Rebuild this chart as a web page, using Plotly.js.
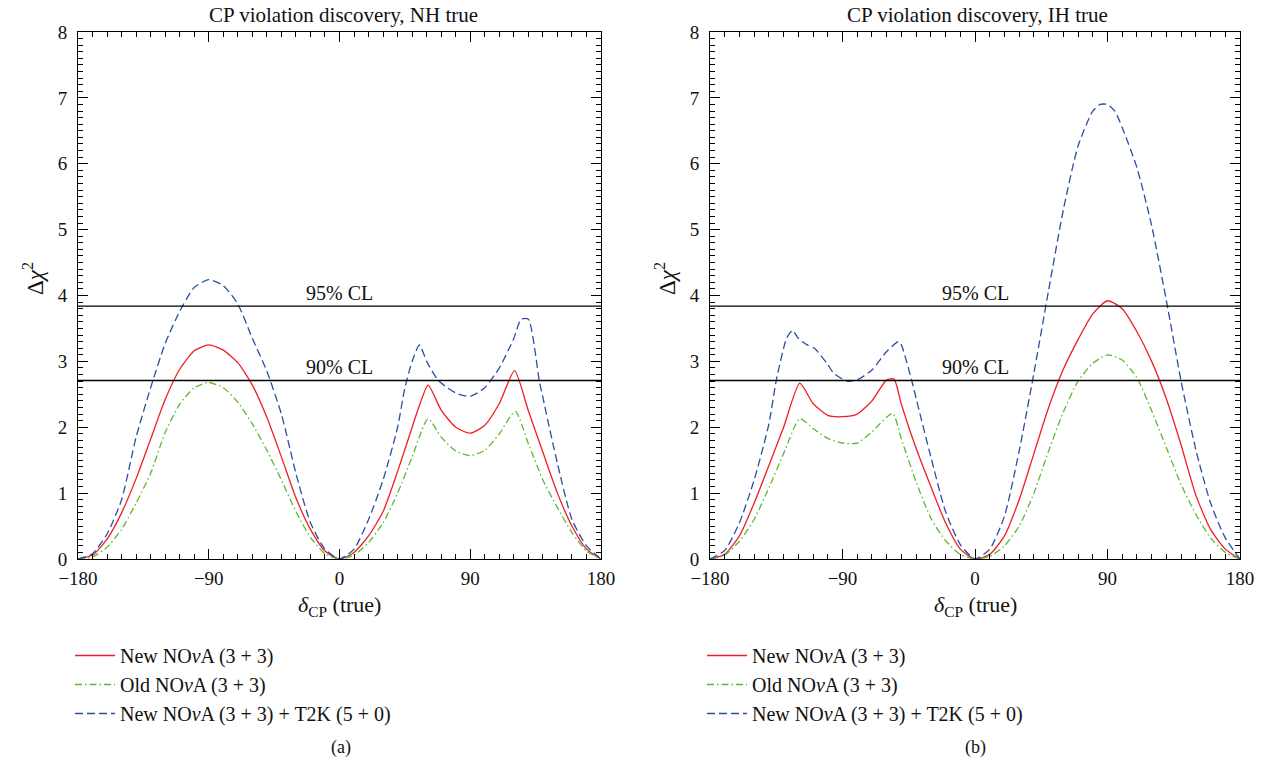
<!DOCTYPE html>
<html>
<head>
<meta charset="utf-8">
<script src="https://cdn.plot.ly/plotly-3.0.1.min.js"></script>
<style>html,body{margin:0;padding:0;background:#fff;}#chart{width:1264px;height:767px;}</style>
</head>
<body>
<div id="chart"></div>
<script>
// ---- Data ----
const seriesNames = ["New NO<i>ν</i>A (3 + 3)", "Old NO<i>ν</i>A (3 + 3)", "New NO<i>ν</i>A (3 + 3) + T2K (5 + 0)"];
const panelTitles = ["CP violation discovery, NH true", "CP violation discovery, IH true"];
const panelTags = ["(a)", "(b)"];
const clValues = [3.84, 2.71];
const clLabels = ["95% CL", "90% CL"];
const xTickVals = [-180, -90, 0, 90, 180];
const yTickVals = [0, 1, 2, 3, 4, 5, 6, 7, 8];

// NH true (panel a)
const nhRedX = [-180,-170,-160,-150,-140,-130,-120,-110,-100,-90,-80,-70,-60,-50,-40,-30,-20,-10,0,10,20,30,40,50,55,61,70,80,90,100,110,120.5,130,140,150,160,170,180];
const nhRedY = [0,0.06,0.3,0.7,1.22,1.82,2.42,2.88,3.16,3.25,3.17,2.98,2.64,2.15,1.55,0.93,0.45,0.12,0,0.1,0.35,0.72,1.33,2.0,2.33,2.64,2.26,2.0,1.91,2.03,2.36,2.86,2.25,1.62,1.0,0.5,0.15,0];
const nhGreenX = [-180,-170,-160,-150,-140,-130,-120,-110,-100,-90,-80,-70,-60,-50,-40,-30,-20,-10,0,10,20,30,40,50,61,70,80,90,100,110,121,130,140,150,160,170,180];
const nhGreenY = [0,0.03,0.18,0.45,0.85,1.3,1.92,2.35,2.6,2.68,2.6,2.38,2.05,1.65,1.2,0.72,0.33,0.08,0,0.06,0.25,0.55,1.0,1.55,2.13,1.85,1.64,1.57,1.65,1.9,2.24,1.75,1.2,0.78,0.4,0.12,0];
const nhBlueX = [-180,-170,-160,-150,-140,-130,-120,-110,-100,-90,-80,-70,-60,-50,-40,-30,-20,-10,0,10,20,30,40,45,50,55,60,68,80,90,100,110,120,125,130,137.5,140,150,160,170,180];
const nhBlueY = [0,0.08,0.38,0.9,1.85,2.6,3.27,3.76,4.12,4.24,4.15,3.87,3.35,2.85,2.2,1.3,0.55,0.15,0,0.15,0.6,1.2,2.0,2.6,3.0,3.25,3.0,2.71,2.52,2.47,2.6,2.9,3.35,3.64,3.64,2.71,2.45,1.45,0.6,0.2,0];

// IH true (panel b)
const ihRedX = [-180,-170,-160,-150,-140,-130,-119,-110,-100,-90,-80,-70,-60,-55,-50,-40,-30,-20,-10,0,10,20,30,40,50,60,70,80,90,100,110,120,130,140,150,160,170,180];
const ihRedY = [0,0.07,0.35,0.85,1.42,2.0,2.67,2.36,2.18,2.16,2.2,2.4,2.72,2.73,2.35,1.68,1.1,0.55,0.15,0,0.07,0.35,0.9,1.6,2.3,2.88,3.33,3.72,3.92,3.8,3.45,3.0,2.43,1.73,0.97,0.45,0.15,0];
const ihGreenX = [-180,-170,-160,-150,-140,-130,-119,-110,-100,-90,-80,-70,-56,-50,-40,-30,-20,-10,0,10,20,30,40,50,60,70,80,90,100,110,120,130,140,150,160,170,180];
const ihGreenY = [0,0.06,0.27,0.6,1.08,1.6,2.13,1.98,1.83,1.76,1.76,1.93,2.21,1.82,1.17,0.62,0.28,0.07,0,0.04,0.2,0.5,1.0,1.64,2.23,2.7,2.97,3.1,3.02,2.75,2.25,1.69,1.13,0.68,0.32,0.1,0];
const ihBlueX = [-180,-170,-160,-150,-140,-135,-128,-124,-120,-114,-109,-100,-96,-87,-80,-70,-60,-52,-50,-43,-40,-30,-20,-10,0,10,20,30,40,50,60,70,80,85,90,95,100,110,120,130,140,150,160,170,180];
const ihBlueY = [0,0.13,0.55,1.2,2.05,2.71,3.35,3.47,3.35,3.25,3.2,2.95,2.82,2.7,2.72,2.87,3.15,3.3,3.25,2.71,2.44,1.55,0.72,0.22,0,0.15,0.65,1.64,2.82,4.08,5.3,6.27,6.8,6.9,6.9,6.8,6.55,5.94,5.06,3.92,2.7,1.66,0.85,0.32,0];

// ---- Styles ----
const FONT = "Liberation Serif";
const colors = ["#f01e23", "#5cb82e", "#2a4ea6"];
const dashes = ["solid", "7px,3px,1.5px,3px", "8px,4px"];

const panels = [
  {xs: [nhRedX, nhGreenX, nhBlueX], ys: [nhRedY, nhGreenY, nhBlueY]},
  {xs: [ihRedX, ihGreenX, ihBlueX], ys: [ihRedY, ihGreenY, ihBlueY]}
];

const traces = [];
panels.forEach((p, pi) => {
  for (let s = 0; s < 3; s++) {
    traces.push({
      x: p.xs[s], y: p.ys[s], type: "scatter", mode: "lines",
      name: seriesNames[s],
      xaxis: pi === 0 ? "x" : "x2", yaxis: pi === 0 ? "y" : "y2",
      legend: pi === 0 ? "legend" : "legend2",
      line: {color: colors[s], width: 1.3, dash: dashes[s], shape: "spline", smoothing: 0.6},
      hoverinfo: "skip"
    });
  }
});

const W = 1264, H = 767;
const yDom = [1 - 559 / H, 1 - 32 / H];
function xAxis(dom) {
  return {
    domain: dom, range: [-180, 180], tickvals: xTickVals, ticks: "inside", ticklen: 10,
    tickwidth: 1, tickcolor: "#000", showline: true, linecolor: "#000", linewidth: 1,
    mirror: "allticks", showgrid: false, zeroline: false, ticklabelstandoff: 2,
    tickfont: {family: FONT, size: 19, color: "#111"},
    minor: {dtick: 10, ticks: "inside", ticklen: 5, tickcolor: "#000", showgrid: false},
    fixedrange: true
  };
}
function yAxis(anchor) {
  return {
    domain: yDom, range: [0, 8], tickvals: yTickVals, ticks: "inside", ticklen: 10,
    tickwidth: 1, tickcolor: "#000", showline: true, linecolor: "#000", linewidth: 1,
    mirror: "allticks", showgrid: false, zeroline: false, anchor: anchor, ticklabelstandoff: 6,
    tickfont: {family: FONT, size: 19, color: "#111"},
    minor: {dtick: 0.1, ticks: "inside", ticklen: 5, tickcolor: "#000", showgrid: false},
    fixedrange: true
  };
}

const shapes = [];
const annotations = [];
[["x", "y"], ["x2", "y2"]].forEach((ax, pi) => {
  clValues.forEach((v, i) => {
    shapes.push({type: "line", xref: ax[0] + " domain", yref: ax[1], x0: 0, x1: 1, y0: v, y1: v,
      line: {color: "#000", width: 1.3}});
    annotations.push({xref: ax[0], yref: ax[1], x: 0, y: v, xanchor: "center", yanchor: "bottom", yshift: 0,
      text: clLabels[i], showarrow: false, font: {family: FONT, size: 20, color: "#111"}});
  });
  annotations.push({xref: "paper", yref: "paper", x: (pi === 0 ? 343 : 977) / W, y: 1 - 15 / H,
    xanchor: "center", yanchor: "middle",
    text: panelTitles[pi], showarrow: false, font: {family: FONT, size: 21, color: "#111"}});
  annotations.push({xref: ax[0], yref: "paper", x: 0, y: 1 - 606 / H, xanchor: "center", yanchor: "middle",
    text: "<i>δ</i><sub>CP</sub> (true)", showarrow: false, font: {family: FONT, size: 22, color: "#111"}});
  annotations.push({xref: "paper", yref: ax[1], x: (pi === 0 ? 33 : 665) / W, y: 4.25, xanchor: "center", yanchor: "middle",
    text: "Δ<i>χ</i><sup>2</sup>", textangle: -90, showarrow: false, font: {family: FONT, size: 23, color: "#111"}});
  annotations.push({xref: "paper", yref: "paper", x: (pi === 0 ? 341 : 975) / W, y: 1 - 747 / H,
    xanchor: "center", yanchor: "middle",
    text: panelTags[pi], showarrow: false, font: {family: FONT, size: 18, color: "#111"}});
});

const legendBase = {
  yanchor: "top", xanchor: "left", bgcolor: "rgba(0,0,0,0)", borderwidth: 0,
  font: {family: FONT, size: 20, color: "#111"}, itemwidth: 40, tracegroupgap: 0,
  itemclick: false, itemdoubleclick: false
};

const layout = {
  width: W, height: H, margin: {l: 0, r: 0, t: 0, b: 0},
  paper_bgcolor: "#fff", plot_bgcolor: "#fff", showlegend: true,
  font: {family: FONT, color: "#111"},
  xaxis: xAxis([78 / W, 601 / W]), yaxis: yAxis("x"),
  xaxis2: xAxis([710 / W, 1240 / W]), yaxis2: yAxis("x2"),
  legend: Object.assign({}, legendBase, {x: 70 / W, y: 1 - 636 / H}),
  legend2: Object.assign({}, legendBase, {x: 702 / W, y: 1 - 636 / H}),
  shapes: shapes, annotations: annotations
};

Plotly.newPlot("chart", traces, layout, {staticPlot: true, displayModeBar: false});
</script>
</body>
</html>
